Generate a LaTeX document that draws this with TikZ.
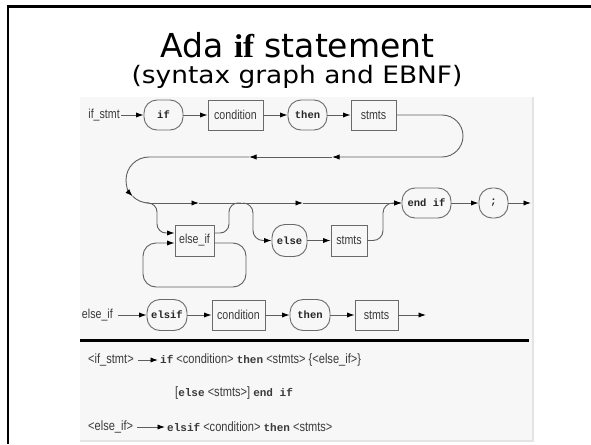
\documentclass[tikz,border=0pt]{standalone}
\usepackage{fontspec}
\usetikzlibrary{arrows.meta,calc}
\setmainfont{DejaVu Sans}
\newfontfamily\titlefont{DejaVu Sans}
\newfontfamily\subtitlefont[FakeStretch=1.1]{DejaVu Sans}
\newfontfamily\serifbold{Liberation Serif}
\newfontfamily\lblfont[FakeStretch=0.82]{Liberation Sans}
\newfontfamily\kwfamily{Liberation Mono}
\newcommand{\kwf}[1]{{\kwfamily\bfseries\fontsize{11}{12}\selectfont #1}}
\definecolor{linegray}{HTML}{5E5E5E}
\definecolor{boxgray}{HTML}{6A6A6A}
\definecolor{txtgray}{HTML}{3A3A3A}
\definecolor{panelgray}{HTML}{F7F7F7}
\definecolor{paneledge}{HTML}{E4E4E4}
\tikzset{
  conn/.style={draw=linegray, line width=0.9pt},
  toarrow/.style={-{Latex[length=7.5pt,width=5.2pt,color=black]}},
  kwbox/.style={draw=boxgray, line width=0.9pt, rounded corners=13pt,
    minimum height=30pt, inner sep=0pt, text=black!85,
    font=\kwfamily\bfseries\fontsize{10.5}{12}\selectfont},
  ntbox/.style={draw=boxgray, line width=0.9pt, minimum height=30pt,
    inner sep=0pt, text=txtgray, font=\lblfont\fontsize{13}{15}\selectfont},
  lbl/.style={inner sep=1pt, text=txtgray, font=\lblfont\fontsize{13}{15}\selectfont},
  ebnf/.style={inner sep=2pt, text=txtgray, font=\lblfont\fontsize{13.5}{15}\selectfont},
}
\begin{document}
\begin{tikzpicture}[x=1pt,y=-1pt]
\useasboundingbox (0,0) rectangle (591,444);
\fill[white] (0,0) rectangle (591,444);

% slide frame
\draw[line width=2.6pt] (591,6.3) -- (8,6.3) -- (8,444);

% title
\node[anchor=base, inner sep=0pt, font=\titlefont\fontsize{33}{38}\selectfont] (title) at (297.5,57)
  {Ada {\serifbold\bfseries if} statement};
\node[anchor=base, inner sep=0pt, font=\subtitlefont\fontsize{24}{28}\selectfont] (subtitle) at (297,83)
  {(syntax graph and EBNF)};

% panel
\fill[panelgray] (80,97) rectangle (533,441);
\draw[paneledge, line width=1.5pt] (533,97) -- (533,441) -- (80,441);

% ---- if_stmt graph ----
\node[lbl, anchor=east] (ifstmtlbl) at (121,115) {if\_stmt};
\node[kwbox, minimum width=39pt] (kif) at (163.5,115) {if};
\node[ntbox, minimum width=55pt] (cond1) at (235.5,115) {condition};
\node[kwbox, minimum width=39pt] (then1) at (307.5,115) {then};
\node[ntbox, minimum width=45pt] (stmts1) at (373.5,115) {stmts};

\node[kwbox, minimum width=49pt] (endif) at (426.5,203) {end if};
\node[kwbox, minimum width=29pt] (semi) at (493.5,203) {;};
\coordinate (exit1) at (531,203);

\node[ntbox, minimum width=39pt, minimum height=31pt] (elseif) at (194.5,240.5) {else\_if};
\node[kwbox, minimum width=35pt, minimum height=32pt] (else) at (289.5,240.5) {else};
\node[ntbox, minimum width=36pt, minimum height=31pt] (stmts2) at (349,240.5) {stmts};

\draw[conn,toarrow] (ifstmtlbl.east) -- (kif.west);
\draw[conn,toarrow] (kif) -- (cond1);
\draw[conn,toarrow] (cond1) -- (then1);
\draw[conn,toarrow] (then1) -- (stmts1);

% return loop back to the start of the second line
\coordinate (rA) at (332,157);
\coordinate (rB) at (249,157);
\coordinate (lt) at (149,157);
\coordinate (lm) at (126,180);
\coordinate (lq) at (132.7,196.3);
\coordinate (lb) at (149,203);
\coordinate (mA) at (199,203);
\coordinate (mB) at (303,203);
\draw[conn,toarrow,rounded corners=21pt] (stmts1.east) -- (463,115) -- (463,157) -- (rA);
\draw[conn,toarrow] (rA) -- (rB);
\draw[conn,toarrow] (rB) -- (lt) .. controls +(-12.7,0) and +(0,-12.7) .. (lm)
  .. controls +(0,6.1) and +(-4.3,-4.3) .. (lq);
\draw[conn] (lq) .. controls +(4.3,4.3) and +(-6.1,0) .. (lb);
\draw[conn,toarrow] (lb) -- (mA);
\draw[conn,toarrow] (mA) -- (mB);
\draw[conn,toarrow] (mB) -- (endif.west);

% else_if branch and its repetition loop
\coordinate (bE) at (146,203);
\coordinate (jE) at (241,203);
\draw[conn,toarrow,rounded corners=9pt] (bE) -- (157,203) -- (157,233) -- ([yshift=7.5pt]elseif.west);
\draw[conn,rounded corners=9pt] ([yshift=7.5pt]elseif.east) -- (229,233) -- (229,203) -- (jE);
\draw[conn,toarrow,rounded corners=13pt] ([yshift=-2.5pt]elseif.east) -- (246,243) -- (246,287)
  -- (143,287) -- (143,243) -- ([yshift=-2.5pt]elseif.west);

% else branch
\coordinate (bF) at (243,203);
\draw[conn,toarrow,rounded corners=10pt] (bF) -- (253,203) -- (253,240.5) -- (else.west);
\draw[conn,toarrow] (else) -- (stmts2);
\draw[conn,toarrow,rounded corners=10pt] (stmts2.east) -- (383,240.5) -- (383,203) -- (endif.west);

\draw[conn,toarrow] (endif) -- (semi);
\draw[conn,toarrow] (semi) -- (exit1);

% ---- else_if graph ----
\node[lbl, anchor=east] (elseiflbl) at (114,315) {else\_if};
\node[kwbox, minimum width=40pt, minimum height=31pt] (elsif) at (167,315) {elsif};
\node[ntbox, minimum width=53pt] (cond2) at (238.5,315) {condition};
\node[kwbox, minimum width=40pt, minimum height=31pt] (then2) at (310,315) {then};
\node[ntbox, minimum width=43pt] (stmts3) at (376.5,315) {stmts};
\coordinate (exit2) at (426,315);

\draw[conn,toarrow] ([xshift=4pt]elseiflbl.east) -- (elsif.west);
\draw[conn,toarrow] (elsif) -- (cond2);
\draw[conn,toarrow] (cond2) -- (then2);
\draw[conn,toarrow] (then2) -- (stmts3);
\draw[conn,toarrow] (stmts3) -- (exit2);

% separator
\draw[line width=2.6pt] (80,340.5) -- (529,340.5);

% ---- EBNF ----
\node[ebnf, anchor=west] (l1) at (86,360) {<if\_stmt>};
\node[ebnf, anchor=west] (r1) at (158,360)
  {\kwf{if} <condition> \kwf{then} <stmts> \{<else\_if>\}};
\draw[linegray, line width=0.9pt, toarrow] ([xshift=2pt]l1.east) -- (r1.west);

\node[ebnf, anchor=west] (r2) at (173,393)
  {[\kwf{else} <stmts>] \kwf{end if}};

\node[ebnf, anchor=west] (l3) at (86,427) {<else\_if>};
\node[ebnf, anchor=west] (r3) at (165,427)
  {\kwf{elsif} <condition> \kwf{then} <stmts>};
\draw[linegray, line width=0.9pt, toarrow] ([xshift=2pt]l3.east) -- (r3.west);
\end{tikzpicture}
\end{document}
